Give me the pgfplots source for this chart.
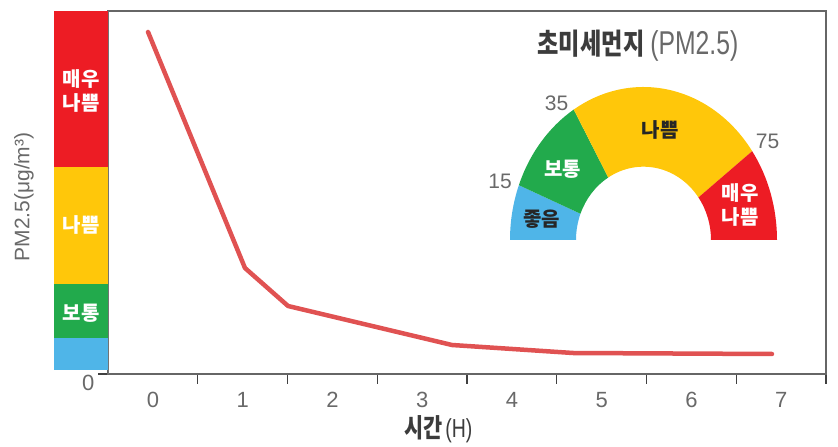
\documentclass[border=0pt]{standalone}
\usepackage{pgfplots}
\pgfplotsset{compat=1.18}
\usepackage{fontspec}
\setmainfont{Liberation Sans}
\newfontfamily\kr{Noto Sans CJK KR}
\newfontfamily\krc[FakeStretch=0.8]{Noto Sans CJK KR}
\newfontfamily\latc[FakeStretch=0.75]{Liberation Sans}

\definecolor{cred}{RGB}{237,28,36}
\definecolor{cyel}{RGB}{255,199,10}
\definecolor{cgrn}{RGB}{34,170,76}
\definecolor{cblu}{RGB}{79,181,232}
\definecolor{cline}{RGB}{224,82,82}
\definecolor{tgray}{RGB}{105,105,105}
\definecolor{dgray}{RGB}{60,60,60}

\newcommand{\seg}[3]{\fill[#1] ([shift={(#2:133.5pt and 153pt)}]c) arc[start angle=#2, end angle=#3, x radius=133.5pt, y radius=153pt] -- ([shift={(#3:67.5pt and 73.3pt)}]c) arc[start angle=#3, end angle=#2, x radius=67.5pt, y radius=73.3pt] -- cycle;}

\begin{document}
\begin{tikzpicture}[x=1pt,y=1pt]
\useasboundingbox (0,0) rectangle (838,447);
\begin{axis}[
  at={(108pt,73pt)}, anchor=south west,
  scale only axis, width=718pt, height=363pt,
  xmin=-0.5, xmax=7.5, ymin=0, ymax=363,
  clip=false,
  axis line style={draw=black!60, line width=1.3pt},
  tick style={draw=black!75, line width=1.1pt},
  tick align=outside, xtick pos=bottom, ytick pos=left,
  major tick length=10pt,
  xtick={0.5,1.5,2.5,3.5,4.5,5.5,6.5,7.5}, xticklabels={},
  extra x ticks={0,1,2,3,4,5,6,7},
  extra x tick labels={0,1,2,3,4,5,6,7},
  extra x tick style={tick style={draw=none}},
  xticklabel style={font=\fontsize{22}{26}\selectfont, text=tgray, anchor=center, yshift=-16pt},
  ytick={0}, yticklabels={0},
  yticklabel style={font=\fontsize{22}{26}\selectfont, text=tgray, anchor=east, yshift=-9pt},
  /pgf/number format/assume math mode=true,
  xlabel={{\krc\bfseries\fontsize{26}{28}\selectfont 시간}\kern3pt{\latc\fontsize{26}{28}\selectfont (H)}},
  xlabel style={at={(axis description cs:0.46,-0.152)}, anchor=center, text=dgray, inner sep=0pt},
  ylabel={PM2.5(μg/m³)},
  ylabel style={at={(axis description cs:-0.117,0.4876)}, anchor=center, font=\fontsize{21}{24}\selectfont, text=tgray},
]
% PM2.5 grade band at the left
\addplot[fill=cblu, draw=none] coordinates {(-1.1017,4) (-0.5,4) (-0.5,36) (-1.1017,36)} -- cycle;
\addplot[fill=cgrn, draw=none] coordinates {(-1.1017,36) (-0.5,36) (-0.5,90) (-1.1017,90)} -- cycle;
\addplot[fill=cyel, draw=none] coordinates {(-1.1017,90) (-0.5,90) (-0.5,207) (-1.1017,207)} -- cycle;
\addplot[fill=cred, draw=none] coordinates {(-1.1017,207) (-0.5,207) (-0.5,363) (-1.1017,363)} -- cycle;
% data line
\addplot[cline, line width=4.5pt, line cap=round, line join=round] coordinates {
  (-0.054,342) (1.026,106) (1.506,68) (3.333,29) (4.681,21) (6.898,20)
};
\end{axis}
% axis left border over the band edge
\draw[black!55, line width=1pt] (108,73) -- (108,436);
% band labels
\node[text=white, align=center, font=\kr\bfseries\fontsize{20}{24}\selectfont] at (81,356) {매우\\나쁨};
\node[text=white, font=\kr\bfseries\fontsize{20}{24}\selectfont] at (81,222) {나쁨};
\node[text=white, font=\kr\bfseries\fontsize{20}{24}\selectfont] at (81,134) {보통};
% gauge inset
\coordinate (c) at (643.5,207);
\seg{cblu}{180}{159}
\seg{cgrn}{159}{121.5}
\seg{cyel}{121.5}{35.5}
\seg{cred}{35.5}{0}
\node[font=\fontsize{21}{24}\selectfont, text=tgray] at (556.5,344) {35};
\node[font=\fontsize{21}{24}\selectfont, text=tgray] at (500,266) {15};
\node[font=\fontsize{21}{24}\selectfont, text=tgray] at (767.5,305.5) {75};
\node[text=white, font=\kr\bfseries\fontsize{20}{24}\selectfont] at (562.5,277.5) {보통};
\node[text=black!85, font=\kr\bfseries\fontsize{20}{24}\selectfont] at (660,317) {나쁨};
\node[text=black!85, font=\kr\bfseries\fontsize{20}{24}\selectfont] at (541.5,228) {좋음};
\node[text=white, align=center, font=\kr\bfseries\fontsize{20}{24}\selectfont] at (740,242.5) {매우\\나쁨};
% title
\node at (638,401.5) {{\krc\bfseries\fontsize{29}{32}\selectfont\color{dgray}초미세먼지}\kern6pt{\latc\fontsize{33}{36}\selectfont\color{tgray}(PM2.5)}};
\end{tikzpicture}
\end{document}
